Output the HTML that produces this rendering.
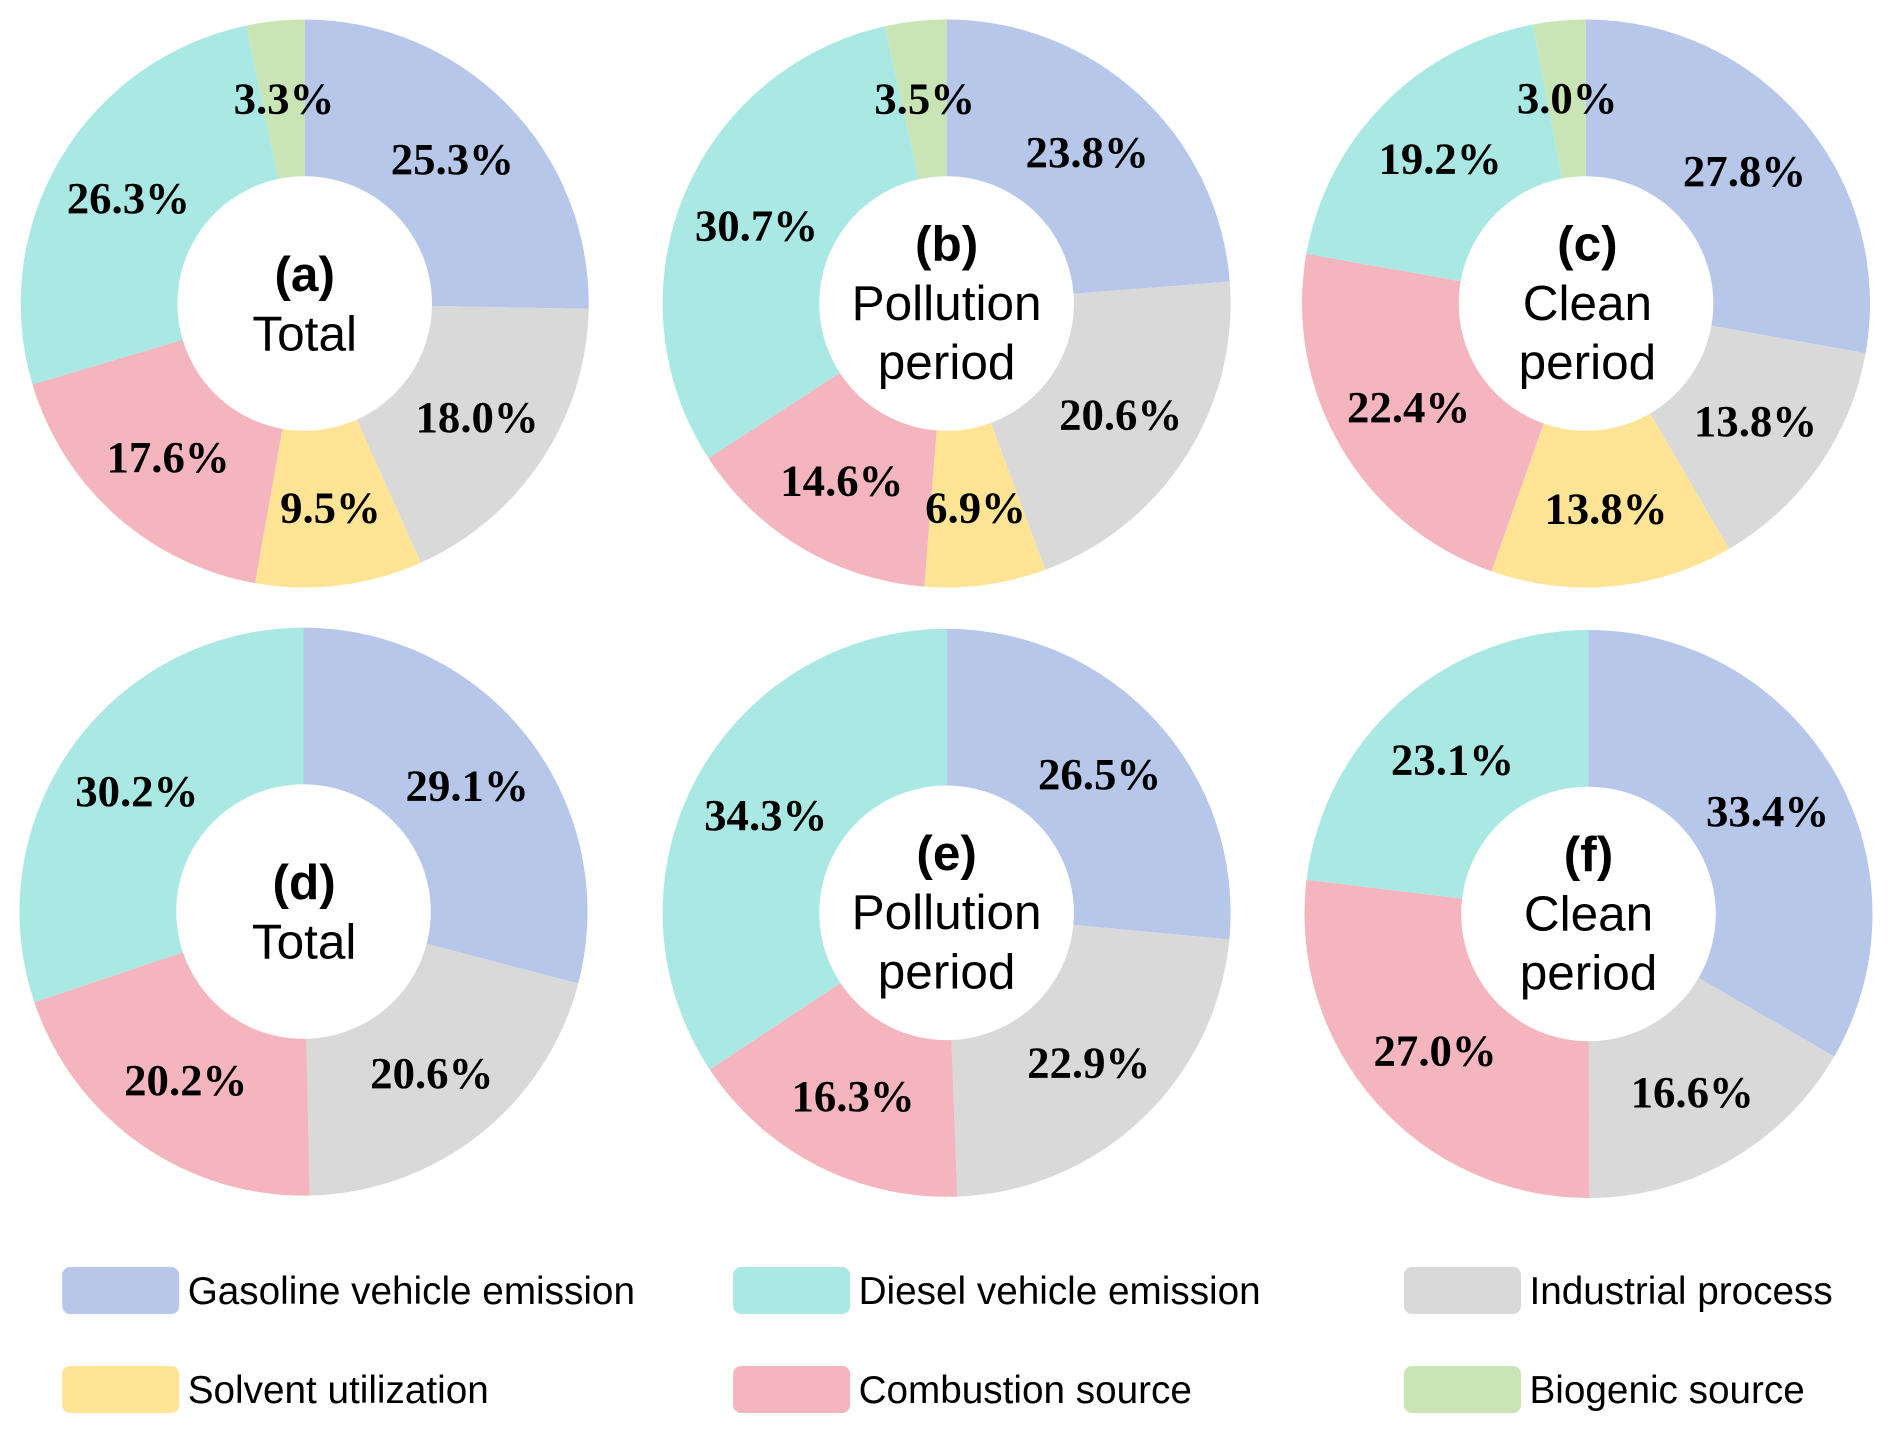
<!DOCTYPE html>
<html lang="en">
<head>
<meta charset="utf-8">
<title>Source contribution donut charts</title>
<style>
html,body{margin:0;padding:0;background:#fff;}
svg{display:block;}
</style>
</head>
<body>
<svg id="chart" xmlns="http://www.w3.org/2000/svg" width="1892" height="1432" viewBox="0 0 1892 1432"></svg>
<script>
const categories = ['Gasoline vehicle emission', 'Industrial process', 'Solvent utilization', 'Combustion source', 'Diesel vehicle emission', 'Biogenic source'];
const valuesA = [25.3, 18.0, 9.5, 17.6, 26.3, 3.3];
const valuesB = [23.8, 20.6, 6.9, 14.6, 30.7, 3.5];
const valuesC = [27.8, 13.8, 13.8, 22.4, 19.2, 3.0];
const valuesD = [29.1, 20.6, 0, 20.2, 30.2, 0];
const valuesE = [26.5, 22.9, 0, 16.3, 34.3, 0];
const valuesF = [33.4, 16.6, 0, 27.0, 23.1, 0];
const legendOrder = ['Gasoline vehicle emission', 'Diesel vehicle emission', 'Industrial process', 'Solvent utilization', 'Combustion source', 'Biogenic source'];

const colors = {
  'Gasoline vehicle emission': '#b6c7e9',
  'Industrial process': '#d9d9d9',
  'Solvent utilization': '#ffe495',
  'Combustion source': '#f4b5bf',
  'Diesel vehicle emission': '#aae9e3',
  'Biogenic source': '#cae5b5'
};

const SVG_NS = 'http://www.w3.org/2000/svg';
const svg = document.getElementById('chart');
const OUTER = 284;
const INNER = 127.3;
const LABEL_R = 206;
const LABEL_SIZE = 44.8;
const CENTER_SIZE = 49.5;
const CENTER_LEAD = 59.2;

function slug(s) {
  return s.toLowerCase().replace(/[^a-z0-9]+/g, '-');
}

function pt(cx, cy, r, a) {
  return [cx + r * Math.sin(a), cy - r * Math.cos(a)];
}

function angleScale(cum, total) {
  return cum / total * 2 * Math.PI;
}

function drawDonut(panel, values, cx, cy, titleLines, titleOffset) {
  const g = document.createElementNS(SVG_NS, 'g');
  
  
  svg.appendChild(g);
  const total = values.reduce(function (s, v) { return s + v; }, 0);
  let cum = 0;
  const pending = [];
  values.forEach(function (v, i) {
    if (v <= 0) return;
    const a0 = angleScale(cum, total);
    const a1 = angleScale(cum + v, total);
    cum += v;
    const large = a1 - a0 > Math.PI ? 1 : 0;
    const p0 = pt(cx, cy, OUTER, a0);
    const p1 = pt(cx, cy, OUTER, a1);
    const p2 = pt(cx, cy, INNER, a1);
    const p3 = pt(cx, cy, INNER, a0);
    const d = 'M' + p0[0] + ' ' + p0[1] +
      'A' + OUTER + ' ' + OUTER + ' 0 ' + large + ' 1 ' + p1[0] + ' ' + p1[1] +
      'L' + p2[0] + ' ' + p2[1] +
      'A' + INNER + ' ' + INNER + ' 0 ' + large + ' 0 ' + p3[0] + ' ' + p3[1] + 'Z';
    const path = document.createElementNS(SVG_NS, 'path');
    path.setAttribute('d', d);
    path.setAttribute('fill', colors[categories[i]]);
    
    
    g.appendChild(path);
    const mid = pt(cx, cy, LABEL_R, (a0 + a1) / 2);
    pending.push({ x: mid[0], y: mid[1], text: v.toFixed(1) + '%', cat: categories[i] });
  });
  pending.forEach(function (l) {
    const t = document.createElementNS(SVG_NS, 'text');
    t.setAttribute('x', l.x + 0.6);
    t.setAttribute('y', l.y + LABEL_SIZE * 0.33);
    t.setAttribute('text-anchor', 'middle');
    t.setAttribute('font-family', '"Liberation Serif", serif');
    t.setAttribute('font-weight', '700');
    t.setAttribute('font-size', LABEL_SIZE);
    t.setAttribute('fill', '#000');
    
    
    t.textContent = l.text;
    g.appendChild(t);
  });
  const shift = titleLines.length === 3 ? -1.4 : -0.6;
  const startY = cy - (titleLines.length - 1) * CENTER_LEAD / 2 + shift;
  titleLines.forEach(function (line, i) {
    const t = document.createElementNS(SVG_NS, 'text');
    t.setAttribute('x', cx + (titleOffset || 0));
    t.setAttribute('y', startY + i * CENTER_LEAD + CENTER_SIZE * 0.36);
    t.setAttribute('text-anchor', 'middle');
    t.setAttribute('font-family', '"Liberation Sans", sans-serif');
    t.setAttribute('font-weight', i === 0 ? '700' : '400');
    t.setAttribute('font-size', CENTER_SIZE);
    t.setAttribute('fill', '#000');
    
    
    t.textContent = line;
    g.appendChild(t);
  });
}

drawDonut('a', valuesA, 304.7, 303.5, ['(a)', 'Total'], 0);
drawDonut('b', valuesB, 946.6, 303.5, ['(b)', 'Pollution', 'period'], 0);
drawDonut('c', valuesC, 1586, 303.5, ['(c)', 'Clean', 'period'], 1.4);
drawDonut('d', valuesD, 303.5, 911.6, ['(d)', 'Total'], 0.6);
drawDonut('e', valuesE, 946.6, 912.8, ['(e)', 'Pollution', 'period'], 0);
drawDonut('f', valuesF, 1588.5, 914, ['(f)', 'Clean', 'period'], 0);

const legend = document.createElementNS(SVG_NS, 'g');


svg.appendChild(legend);
const colX = [62.2, 733.1, 1404];
const rowY = [1267, 1366];
legendOrder.forEach(function (name, i) {
  const x = colX[i % 3];
  const y = rowY[Math.floor(i / 3)];
  const entry = document.createElementNS(SVG_NS, 'g');
  
  
  legend.appendChild(entry);
  const r = document.createElementNS(SVG_NS, 'rect');
  r.setAttribute('x', x);
  r.setAttribute('y', y);
  r.setAttribute('width', 117);
  r.setAttribute('height', 47);
  r.setAttribute('rx', 8);
  r.setAttribute('fill', colors[name]);
  
  
  entry.appendChild(r);
  const t = document.createElementNS(SVG_NS, 'text');
  t.setAttribute('x', x + 125.5);
  t.setAttribute('y', y + 37);
  t.setAttribute('font-family', '"Liberation Sans", sans-serif');
  t.setAttribute('font-size', 38.7);
  t.setAttribute('fill', '#000');
  
  
  t.textContent = name;
  entry.appendChild(t);
});
</script>
</body>
</html>
